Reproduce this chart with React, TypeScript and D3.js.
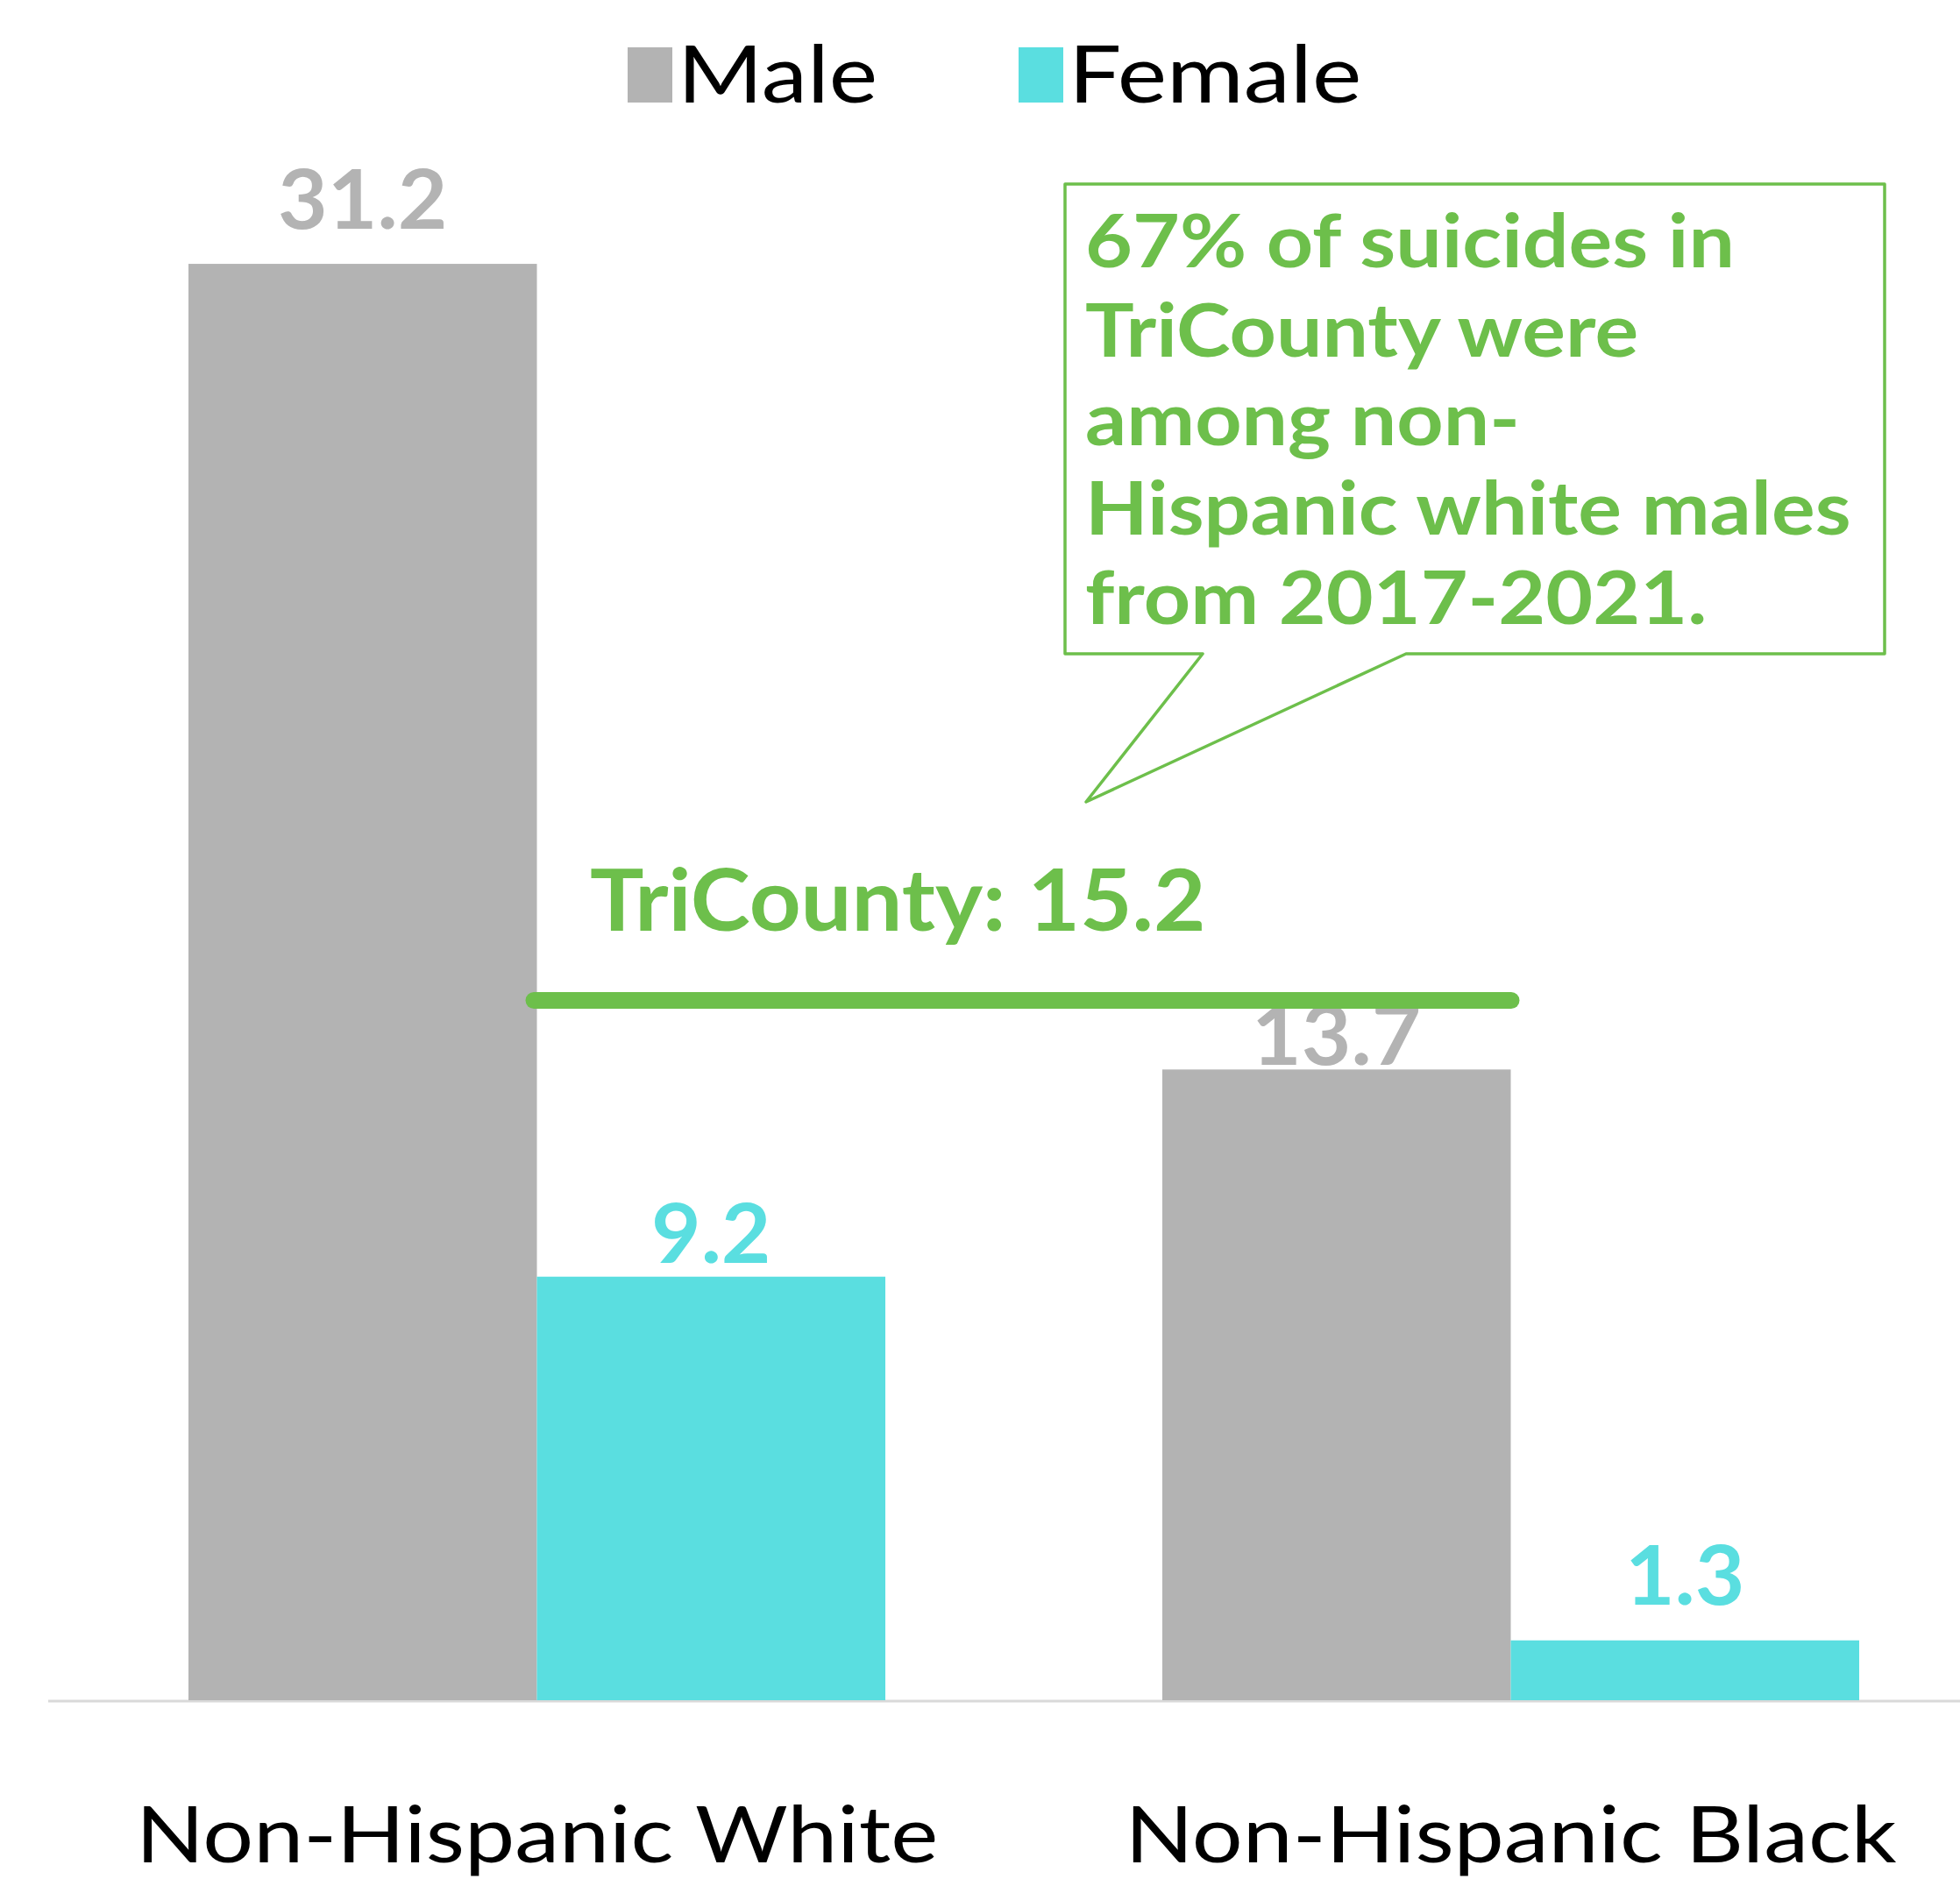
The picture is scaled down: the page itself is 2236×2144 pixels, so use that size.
import React from "react";
import * as d3 from "d3";

const categories = ["Non-Hispanic White", "Non-Hispanic Black"];
const seriesNames = ["Male", "Female"];
const maleValues = [31.2, 13.7];
const femaleValues = [9.2, 1.3];
const benchmarkLabel = "TriCounty";
const benchmarkValue = 15.2;
const calloutLines = [
  "67% of suicides in",
  "TriCounty were",
  "among non-",
  "Hispanic white males",
  "from 2017-2021.",
];

const W = 2236;
const H = 2144;
const GREEN = "#6dbf4b";
const GRAY = "#b3b3b3";
const CYAN = "#5adee0";
const FONT = "Lato, 'Open Sans', sans-serif";

// label nudges (pixels above bar top), layout only
const labelGap: Record<string, number[]> = { Male: [40, 5], Female: [16, 41] };

const sx = (cx: number, k: number) => `translate(${cx},0) scale(${k},1) translate(${-cx},0)`;

export default function App() {
  React.useEffect(() => {
    document.body.style.margin = "0";
  }, []);

  const baseY = 1940;
  const x = d3.scaleBand<string>().domain(categories).range([215, 2121]).paddingInner(0.2844).paddingOuter(0);
  const xs = d3.scaleBand<string>().domain(seriesNames).range([0, x.bandwidth()]).padding(0);
  const y = d3.scaleLinear().domain([0, 35]).range([baseY, baseY - 35 * 52.53]);
  const colors: Record<string, string> = { Male: GRAY, Female: CYAN };
  const values: Record<string, number[]> = { Male: maleValues, Female: femaleValues };

  const by = y(benchmarkValue);

  return (
    <svg width={W} height={H} style={{ display: "block", background: "#fff" }} fontFamily={FONT}>
      {/* legend */}
      <rect x={716} y={54} width={51} height={63} fill={GRAY} />
      <text x={773} y={117} fontSize={92} fill="#000" transform={sx(773, 1.14)}>{seriesNames[0]}</text>
      <rect x={1162} y={54} width={51} height={63} fill={CYAN} />
      <text x={1219} y={117} fontSize={92} fill="#000" transform={sx(1219, 1.16)}>{seriesNames[1]}</text>

      {/* axis */}
      <line x1={55} x2={W} y1={baseY + 1} y2={baseY + 1} stroke="#d9d9d9" strokeWidth={3} />

      {/* bars */}
      {categories.map((c, i) => (
        <g key={c} transform={`translate(${x(c)},0)`}>
          {seriesNames.map((s) => {
            const v = values[s][i];
            const cx = (xs(s) as number) + xs.bandwidth() / 2;
            return (
              <g key={s}>
                <rect x={xs(s)} y={y(v)} width={xs.bandwidth()} height={baseY - y(v)} fill={colors[s]} />
                <text
                  x={cx}
                  y={y(v) - labelGap[s][i]}
                  textAnchor="middle"
                  fontSize={94}
                  fontWeight={700}
                  fill={colors[s]}
                  transform={sx(cx, 1.04)}
                >
                  {v.toFixed(1)}
                </text>
              </g>
            );
          })}
          <text
            x={x.bandwidth() / 2}
            y={2125}
            textAnchor="middle"
            fontSize={90}
            fill="#000"
            transform={sx(x.bandwidth() / 2, 1.135)}
          >
            {c}
          </text>
        </g>
      ))}

      {/* benchmark line */}
      <line x1={609} x2={1724} y1={by} y2={by} stroke={GREEN} strokeWidth={19} strokeLinecap="round" />
      <text x={673} y={1062} fontSize={98} fontWeight={700} fill={GREEN} transform={sx(673, 1.048)}>
        {`${benchmarkLabel}: ${benchmarkValue}`}
      </text>

      {/* callout */}
      <path
        d="M1215,210 L2150,210 L2150,746 L1604,746 L1239,915 L1372,746 L1215,746 Z"
        fill="none"
        stroke={GREEN}
        strokeWidth={3.5}
        strokeLinejoin="round"
      />
      <g transform={sx(1238, 1.095)}>
        {calloutLines.map((t, i) => (
          <text key={i} x={1238} y={305 + i * 101.7} fontSize={85} fontWeight={700} fill={GREEN}>
            {t}
          </text>
        ))}
      </g>
    </svg>
  );
}
